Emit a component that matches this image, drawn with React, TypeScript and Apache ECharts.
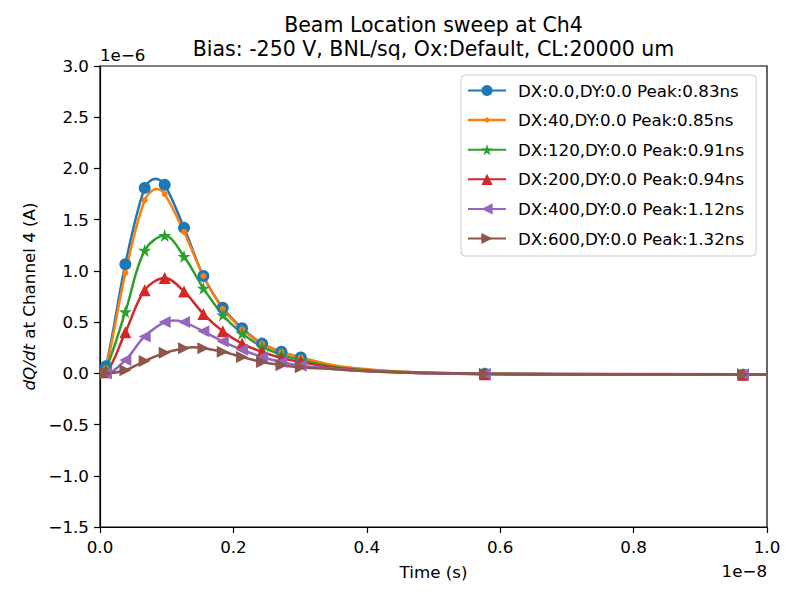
import React, { useEffect, useRef } from "react";
import * as echarts from "echarts";

// time axis in units of 1e-8 s, values in units of 1e-6 A
const markerTimes = [0.009, 0.038, 0.067, 0.097, 0.126, 0.155, 0.184, 0.213, 0.243, 0.272, 0.301, 0.577, 0.964];
const curveTimes = [0.0, 0.35, 0.40, 0.45, 0.50, 1.0];

const seriesNames = [
  "DX:0.0,DY:0.0 Peak:0.83ns",
  "DX:40,DY:0.0 Peak:0.85ns",
  "DX:120,DY:0.0 Peak:0.91ns",
  "DX:200,DY:0.0 Peak:0.94ns",
  "DX:400,DY:0.0 Peak:1.12ns",
  "DX:600,DY:0.0 Peak:1.32ns",
];
const seriesColors = ["#1f77b4", "#ff7f0e", "#2ca02c", "#d62728", "#9467bd", "#8c564b"];

// values at marker times
const dx0Markers = [0.07, 1.065, 1.81, 1.84, 1.42, 0.95, 0.64, 0.44, 0.29, 0.21, 0.155, -0.005, -0.015];
const dx40Markers = [0.05, 0.98, 1.69, 1.75, 1.38, 0.95, 0.63, 0.43, 0.29, 0.21, 0.155, -0.005, -0.012];
const dx120Markers = [0.04, 0.60, 1.20, 1.345, 1.14, 0.83, 0.57, 0.39, 0.26, 0.18, 0.13, -0.005, -0.012];
const dx200Markers = [0.01, 0.40, 0.81, 0.93, 0.80, 0.58, 0.41, 0.29, 0.21, 0.15, 0.11, -0.01, -0.015];
const dx400Markers = [0.0, 0.13, 0.36, 0.50, 0.50, 0.41, 0.31, 0.23, 0.16, 0.11, 0.075, -0.005, -0.01];
const dx600Markers = [0.0, 0.03, 0.12, 0.20, 0.245, 0.245, 0.21, 0.16, 0.11, 0.08, 0.06, -0.003, -0.008];

// values at unmarked curve times
const dx0Curve = [0.0, 0.075, 0.035, 0.015, 0.005, -0.015];
const dx40Curve = [0.0, 0.08, 0.04, 0.018, 0.006, -0.012];
const dx120Curve = [0.0, 0.065, 0.03, 0.013, 0.004, -0.012];
const dx200Curve = [0.0, 0.055, 0.025, 0.01, 0.0, -0.015];
const dx400Curve = [0.0, 0.045, 0.02, 0.008, 0.0, -0.01];
const dx600Curve = [0.0, 0.04, 0.02, 0.008, 0.0, -0.008];

// unmarked peak points
const peakTimes = [0.083, 0.085, null, null, 0.112, 0.14];
const peakValues = [1.9, 1.8, null, null, 0.515, 0.255];

const allMarkers = [dx0Markers, dx40Markers, dx120Markers, dx200Markers, dx400Markers, dx600Markers];
const allCurves = [dx0Curve, dx40Curve, dx120Curve, dx200Curve, dx400Curve, dx600Curve];

const STAR = "path://M10,0 L12.245,6.91 L19.51,6.91 L13.63,11.18 L15.88,18.09 L10,13.82 L4.12,18.09 L6.37,11.18 L0.49,6.91 L7.755,6.91 Z";
const LEFT_TRI = "path://M10,0 L0,5 L10,10 Z";
const RIGHT_TRI = "path://M0,0 L10,5 L0,10 Z";
const symbols = ["circle", "circle", STAR, "triangle", LEFT_TRI, RIGHT_TRI];
const symbolSizes = [12, 6, 13, 12, 12, 12];
// legend icon for the small-dot series: line with a small dot in the middle
const DOT_LINE_ICON =
  "path://M0,1.25 L38,1.25 L38,3.75 L0,3.75 Z M16.5,2.5 A2.5,2.5 0 1,1 21.5,2.5 A2.5,2.5 0 1,1 16.5,2.5 Z";

const FONT = "DejaVu Sans";
const FS = 16.7;

function buildData(i: number) {
  const pts: { t: number; v: number; m: boolean }[] = [];
  markerTimes.forEach((t, k) => pts.push({ t, v: allMarkers[i][k], m: true }));
  curveTimes.forEach((t, k) => pts.push({ t, v: allCurves[i][k], m: false }));
  if (peakTimes[i] != null) pts.push({ t: peakTimes[i] as number, v: peakValues[i] as number, m: false });
  pts.sort((a, b) => a.t - b.t);
  return pts.map((p) =>
    p.m ? { value: [p.t, p.v] } : { value: [p.t, p.v], symbol: "none" }
  );
}

function txt(text: string, x: number, y: number, size: number, align: string) {
  return {
    type: "text",
    x,
    y,
    style: {
      text,
      fontFamily: FONT,
      fontSize: size,
      fill: "#000",
      align,
      verticalAlign: "middle",
      textAlign: align,
      textVerticalAlign: "middle",
    },
  };
}

export default function App() {
  const ref = useRef<HTMLDivElement>(null);
  useEffect(() => {
    document.body.style.margin = "0";
    const chart = echarts.init(ref.current!, undefined, { renderer: "svg" });
    const axisLabelBase = {
      show: true,
      margin: 11,
      fontFamily: FONT,
      fontSize: FS,
      color: "#000",
      showMinLabel: true,
      showMaxLabel: true,
    };
    const option: any = {
      animation: false,
      backgroundColor: "#ffffff",
      textStyle: { fontFamily: FONT },
      grid: {
        left: 100,
        right: 33,
        top: 66,
        bottom: 73,
        show: true,
        borderColor: "#000000",
        borderWidth: 1.2,
        backgroundColor: "transparent",
      },
      xAxis: {
        type: "value",
        min: 0,
        max: 1.0,
        interval: 0.2,
        name: "Time (s)",
        nameLocation: "middle",
        nameGap: 36,
        nameTextStyle: { fontFamily: FONT, fontSize: FS, color: "#000" },
        axisLine: { show: true, onZero: false, lineStyle: { color: "#000", width: 1.2 } },
        axisTick: { show: true, length: 6, lineStyle: { color: "#000", width: 1.2 } },
        axisLabel: { ...axisLabelBase, formatter: (v: number) => v.toFixed(1) },
        splitLine: { show: false },
      },
      yAxis: {
        type: "value",
        min: -1.5,
        max: 3.0,
        interval: 0.5,
        name: "{i|dQ/dt} at Channel 4 (A)",
        nameLocation: "middle",
        nameRotate: 90,
        nameGap: 63,
        nameTextStyle: {
          fontFamily: FONT,
          fontSize: FS,
          color: "#000",
          rich: { i: { fontFamily: FONT, fontSize: FS, fontStyle: "italic", color: "#000" } },
        },
        axisLine: { show: true, onZero: false, lineStyle: { color: "#000", width: 1.2 } },
        axisTick: { show: true, length: 6, lineStyle: { color: "#000", width: 1.2 } },
        axisLabel: {
          ...axisLabelBase,
          formatter: (v: number) => (v < 0 ? "\u2212" : "") + Math.abs(v).toFixed(1),
        },
        splitLine: { show: false },
      },
      legend: {
        left: 461,
        top: 75,
        orient: "vertical",
        padding: [7, 12, 9, 6],
        itemGap: 12.6,
        itemWidth: 38,
        itemHeight: 14,
        symbolKeepAspect: true,
        backgroundColor: "rgba(255,255,255,0.8)",
        borderColor: "#cccccc",
        borderWidth: 1,
        borderRadius: 4,
        textStyle: { fontFamily: FONT, fontSize: FS, lineHeight: 14, color: "#000", padding: [0, 0, 0, 7] },
        data: seriesNames.map((name, i) => (i === 1 ? { name, icon: DOT_LINE_ICON } : { name })),
      },
      graphic: [
        txt("Beam Location sweep at Ch4", 433.5, 25, 20.5, "center"),
        txt("Bias: -250 V, BNL/sq, Ox:Default, CL:20000 um", 433.5, 49, 20.5, "center"),
        txt("1e\u22126", 100, 55, FS, "left"),
        txt("1e\u22128", 767, 571, FS, "right"),
      ],
      series: seriesNames.map((name, i) => ({
        name,
        type: "line",
        data: buildData(i),
        smooth: 0.35,
        symbol: symbols[i],
        symbolSize: symbolSizes[i],
        showSymbol: true,
        showAllSymbol: true,
        clip: true,
        color: seriesColors[i],
        lineStyle: { color: seriesColors[i], width: 2.5 },
        itemStyle: { color: seriesColors[i], borderWidth: 0 },
        emphasis: { disabled: true },
      })),
    };
    chart.setOption(option);
    return () => chart.dispose();
  }, []);
  return (
    <div
      ref={ref}
      style={{ position: "absolute", left: 0, top: 0, width: 800, height: 600 }}
    />
  );
}
